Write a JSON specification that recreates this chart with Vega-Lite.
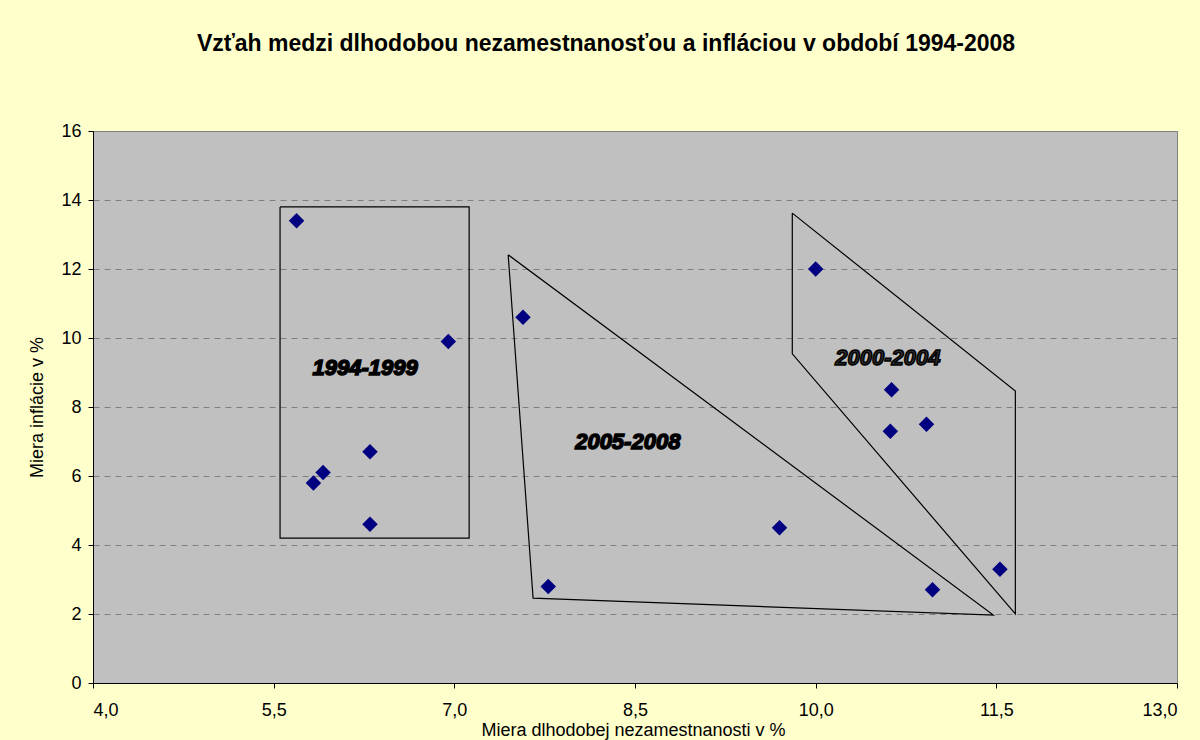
{
  "$schema": "https://vega.github.io/schema/vega-lite/v6.json",
  "autosize": "none",
  "width": 1084,
  "height": 552,
  "padding": {"left": 93, "top": 131, "right": 23, "bottom": 57},
  "background": "#FFFFCC",
  "title": {
    "text": "Vzťah medzi dlhodobou nezamestnanosťou a infláciou v období 1994-2008",
    "font": "Liberation Sans",
    "fontSize": 23,
    "fontWeight": "bold",
    "color": "#000000",
    "anchor": "middle",
    "dx": -29,
    "offset": 66
  },
  "config": {
    "locale": {"number": {"decimal": ",", "thousands": " ", "grouping": [3], "currency": ["", " €"]}},
    "view": {"fill": "#C0C0C0", "stroke": "#808080", "strokeWidth": 1},
    "axis": {
      "labelFont": "Liberation Sans",
      "titleFont": "Liberation Sans",
      "labelFontSize": 18,
      "titleFontSize": 18,
      "titleFontWeight": "normal",
      "labelColor": "#000000",
      "titleColor": "#000000",
      "domainColor": "#000000",
      "tickColor": "#000000",
      "tickSize": 5
    }
  },
  "datasets": {
    "points": [
      {"u": 5.69, "i": 13.4},
      {"u": 6.95, "i": 9.9},
      {"u": 6.3, "i": 6.7},
      {"u": 5.91, "i": 6.1},
      {"u": 5.83, "i": 5.8},
      {"u": 6.3, "i": 4.6},
      {"u": 7.57, "i": 10.6},
      {"u": 7.78, "i": 2.8},
      {"u": 9.7, "i": 4.5},
      {"u": 10.0, "i": 12.0},
      {"u": 10.63, "i": 8.5},
      {"u": 10.62, "i": 7.3},
      {"u": 10.92, "i": 7.5},
      {"u": 10.97, "i": 2.7},
      {"u": 11.53, "i": 3.3}
    ],
    "shapes": [
      {"g": "1994-1999", "o": 1, "u": 5.553, "i": 13.8},
      {"g": "1994-1999", "o": 2, "u": 7.123, "i": 13.8},
      {"g": "1994-1999", "o": 3, "u": 7.123, "i": 4.2},
      {"g": "1994-1999", "o": 4, "u": 5.553, "i": 4.2},
      {"g": "1994-1999", "o": 5, "u": 5.553, "i": 13.8},
      {"g": "2005-2008", "o": 1, "u": 7.447, "i": 12.41},
      {"g": "2005-2008", "o": 2, "u": 7.654, "i": 2.46},
      {"g": "2005-2008", "o": 3, "u": 11.475, "i": 1.97},
      {"g": "2005-2008", "o": 4, "u": 7.447, "i": 12.41},
      {"g": "2000-2004", "o": 1, "u": 9.806, "i": 13.62},
      {"g": "2000-2004", "o": 2, "u": 11.658, "i": 8.46},
      {"g": "2000-2004", "o": 3, "u": 11.658, "i": 2.0},
      {"g": "2000-2004", "o": 4, "u": 9.806, "i": 9.54},
      {"g": "2000-2004", "o": 5, "u": 9.806, "i": 13.62}
    ],
    "labels": [
      {"t": "1994-1999", "u": 6.26, "i": 9.13, "c": "#000000"},
      {"t": "2005-2008", "u": 8.44, "i": 7.0, "c": "#000000"},
      {"t": "2000-2004", "u": 10.6, "i": 9.42, "c": "#303030"}
    ]
  },
  "layer": [
    {
      "data": {"name": "shapes"},
      "mark": {"type": "line", "color": "#000000", "strokeWidth": 1.2},
      "encoding": {
        "x": {
          "field": "u", "type": "quantitative",
          "scale": {"domain": [4, 13], "nice": false, "zero": false},
          "axis": {
            "values": [4, 5.5, 7, 8.5, 10, 11.5, 13],
            "format": ".1f",
            "grid": false,
            "title": "Miera dlhodobej nezamestnanosti v %",
            "labelPadding": 13,
            "titlePadding": 2,
            "titleX": 540
          }
        },
        "y": {
          "field": "i", "type": "quantitative",
          "scale": {"domain": [0, 16], "nice": false},
          "axis": {
            "values": [0, 2, 4, 6, 8, 10, 12, 14, 16],
            "grid": true,
            "gridDash": [6, 5],
            "gridColor": "#808080",
            "gridWidth": 1,
            "gridOpacity": 1,
            "title": "Miera inflácie v %",
            "labelPadding": 7,
            "titlePadding": 14
          }
        },
        "detail": {"field": "g"},
        "order": {"field": "o", "type": "quantitative"}
      }
    },
    {
      "data": {"name": "points"},
      "mark": {"type": "point", "shape": "diamond", "filled": true, "color": "#000080", "size": 240, "opacity": 1},
      "encoding": {
        "x": {"field": "u", "type": "quantitative"},
        "y": {"field": "i", "type": "quantitative"}
      }
    },
    {
      "data": {"name": "labels"},
      "mark": {"type": "text", "font": "Liberation Sans", "fontSize": 22, "fontWeight": "bold", "fontStyle": "italic", "stroke": "#000000", "strokeWidth": 1.5},
      "encoding": {
        "x": {"field": "u", "type": "quantitative"},
        "y": {"field": "i", "type": "quantitative"},
        "text": {"field": "t"},
        "color": {"field": "c", "type": "nominal", "scale": null}
      }
    }
  ]
}
